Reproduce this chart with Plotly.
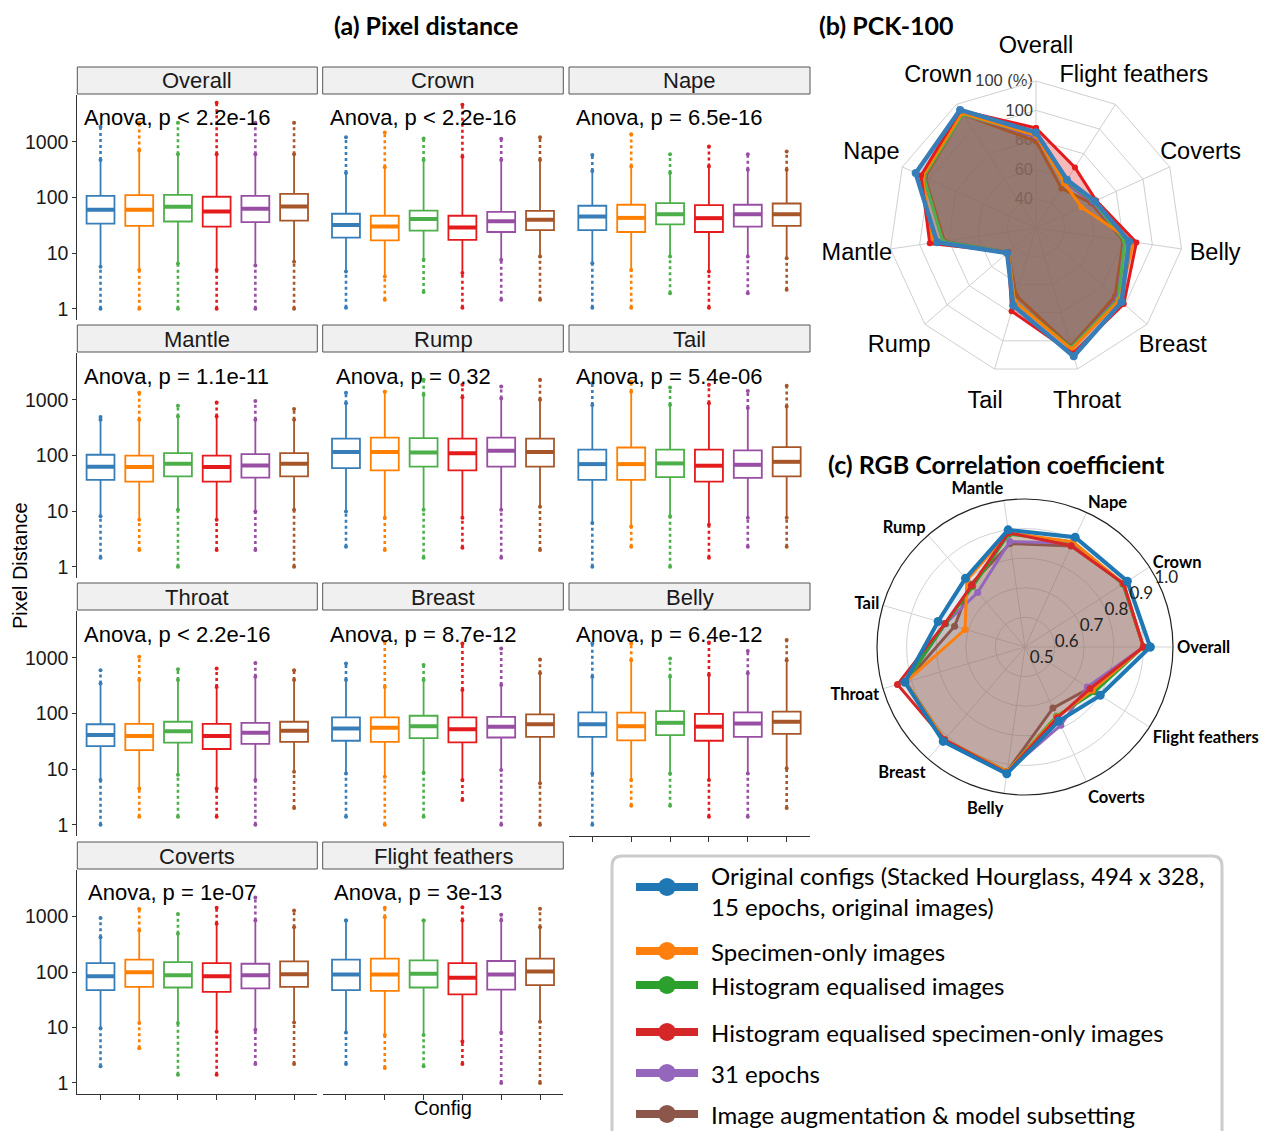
import plotly.graph_objects as go

OFF = 8                      # browser body margin
W, H = 1270 - 2 * OFF, 1139 - 2 * OFF

# ---------------- data ----------------
PANELS = ["Overall", "Crown", "Nape", "Mantle", "Rump", "Tail",
          "Throat", "Breast", "Belly", "Coverts", "Flight feathers"]
ANOVA = ["Anova, p < 2.2e-16", "Anova, p < 2.2e-16", "Anova, p = 6.5e-16",
         "Anova, p = 1.1e-11", "Anova, p = 0.32", "Anova, p = 5.4e-06",
         "Anova, p < 2.2e-16", "Anova, p = 8.7e-12", "Anova, p = 6.4e-12",
         "Anova, p = 1e-07", "Anova, p = 3e-13"]
CONFIGS = ["Original configs (Stacked Hourglass, 494 x 328,<br>15 epochs, original images)",
           "Specimen-only images",
           "Histogram equalised images",
           "Histogram equalised specimen-only images",
           "31 epochs",
           "Image augmentation & model subsetting"]
SET1 = ["#377EB8", "#FF7F00", "#4DAF4A", "#E41A1C", "#984EA3", "#A65628"]
TAB10 = ["#1F77B4", "#FF7F0E", "#2CA02C", "#D62728", "#9467BD", "#8C564B"]

# box statistics per panel (6 configs each)
Q1 = [[34, 31, 37, 30, 36, 38.5],
      [19, 17, 25.5, 17.3, 24, 26],
      [26, 24, 33, 24, 30, 31],
      [36.6, 34, 42, 34, 40, 42],
      [59.5, 54, 63, 54, 63, 63],
      [36.6, 36.6, 41, 34, 39.5, 42],
      [26, 22, 30, 23, 28.4, 31],
      [32.4, 31, 36, 30.4, 37, 38],
      [38, 33, 41, 32.4, 38, 43],
      [47, 54, 52.6, 44, 50.6, 54],
      [47, 45.6, 52.6, 39.5, 48, 58]]
MED = [[60, 60, 68, 56, 63, 69],
       [32, 30, 41, 29, 37.5, 40],
       [45.5, 43, 50, 42.5, 50, 50],
       [63, 62, 71, 62, 66, 71],
       [115, 115, 113, 110, 121, 115],
       [70, 70, 72, 65.5, 68, 77],
       [41, 39.5, 48, 39.5, 45, 49],
       [54, 55.5, 59, 52, 58, 64],
       [64, 59, 68, 58, 66, 71],
       [84, 99, 87, 84, 87, 91],
       [90, 90, 93, 79, 90, 102]]
Q3 = [[107, 110, 111, 103, 107, 116],
      [51, 47, 58, 47, 55, 57.5],
      [71, 74, 79, 73, 74, 78],
      [103, 99, 110, 99, 106, 110],
      [200, 210, 205, 200, 210, 200],
      [127, 139, 127, 127, 123, 141],
      [64, 65, 71, 65, 68, 71],
      [85, 85, 91, 85, 87, 96],
      [105, 104, 110, 98, 105, 108],
      [145, 167, 151, 145, 141, 156],
      [167, 174, 162, 145, 158, 174]]
WLO = [[5.7, 5, 6.5, 5, 6, 7],
       [4.7, 3.8, 7.6, 4.4, 7.6, 8.7],
       [6.6, 5, 8.7, 4.7, 8.7, 8.1],
       [8.1, 7, 10.6, 7, 9.9, 10.6],
       [9.9, 7.6, 10.6, 7.6, 10.6, 12],
       [6.1, 5.3, 8.1, 5.7, 7.6, 7.6],
       [6.4, 4.5, 7.9, 4.5, 6.4, 9],
       [8.4, 7.3, 8.6, 6.4, 9.7, 5.6],
       [8.4, 6.4, 8.4, 6.4, 8.4, 10.4],
       [9.7, 12, 12, 8.4, 9.1, 12.3],
       [8.1, 7.3, 7.3, 5.6, 8.1, 12.7]]
WHI = [[470, 700, 600, 600, 600, 600],
       [275, 350, 470, 540, 470, 470],
       [300, 360, 275, 360, 315, 315],
       [440, 440, 500, 500, 440, 440],
       [870, 1400, 1230, 1110, 1050, 1000],
       [810, 1400, 810, 870, 710, 760],
       [345, 400, 400, 300, 455, 400],
       [400, 300, 400, 263, 323, 525],
       [455, 900, 455, 490, 525, 900],
       [425, 560, 490, 740, 850, 645],
       [850, 970, 850, 850, 850, 645]]
OMIN = [[1.0, 1.0, 1.0, 1.0, 1.0, 1.0],
        [1.05, 1.45, 2.0, 1.05, 1.45, 1.45],
        [1.05, 1.05, 1.9, 1.05, 1.9, 2.2],
        [1.45, 2.0, 1.0, 2.0, 2.0, 1.0],
        [2.3, 2.0, 1.45, 2.2, 1.45, 2.0],
        [1.0, 2.3, 1.0, 1.45, 2.3, 2.3],
        [1.0, 1.4, 1.4, 1.4, 1.0, 2.0],
        [1.4, 1.0, 1.4, 2.8, 1.0, 1.0],
        [1.0, 2.2, 2.2, 1.4, 1.4, 2.0],
        [2.0, 4.2, 1.4, 1.4, 2.2, 2.2],
        [2.2, 1.86, 2.0, 2.2, 1.0, 1.0]]
OMAX = [[1870, 2200, 2200, 5000, 2200, 2200],
        [1200, 1470, 1150, 4600, 1130, 1200],
        [580, 1370, 600, 820, 600, 670],
        [490, 1340, 780, 890, 950, 680],
        [1340, 1400, 2280, 1860, 1730, 2280],
        [1980, 2100, 1660, 1860, 1440, 1780],
        [600, 1040, 620, 645, 810, 600],
        [790, 1950, 740, 1800, 1470, 930],
        [1800, 1800, 970, 1880, 1320, 2080],
        [940, 1370, 1110, 1450, 2200, 1290],
        [850, 1450, 850, 1470, 1080, 1380]]

# (b) PCK-100 radar
PCK_PARTS = ["Overall", "Flight feathers", "Coverts", "Belly", "Breast", "Throat",
             "Tail", "Rump", "Mantle", "Nape", "Crown"]
PCK = [[65, 39, 44, 64, 77, 91, 55, 26, 68, 90, 95.5],
       [63, 36, 34, 67, 75, 86, 52, 25, 71, 85, 93],
       [63, 38, 43, 61, 74, 85, 52, 25, 64, 84, 92],
       [68, 49, 45, 69, 79, 89, 59, 25, 73, 86, 95],
       [62, 37, 42, 61, 73, 85, 52, 25, 64, 84, 92],
       [59, 32, 41, 60, 71, 84, 48, 25, 63, 83, 92]]
PCK_TICKS = [20, 40, 60, 80, 100]
PCK_TICKTEXT = ["40", "60", "80", "100", "100 (%)"]

# (c) RGB correlation radar
RGB_PARTS = ["Overall", "Crown", "Nape", "Mantle", "Rump", "Tail", "Throat",
             "Breast", "Belly", "Coverts", "Flight feathers"]
RGB = [[0.923, 0.911, 0.908, 0.900, 0.807, 0.806, 0.923, 0.922, 0.933, 0.775, 0.802],
       [0.900, 0.896, 0.890, 0.890, 0.800, 0.711, 0.920, 0.915, 0.925, 0.760, 0.770],
       [0.900, 0.893, 0.890, 0.885, 0.770, 0.780, 0.920, 0.915, 0.925, 0.757, 0.780],
       [0.900, 0.896, 0.876, 0.890, 0.775, 0.782, 0.949, 0.915, 0.930, 0.763, 0.761],
       [0.900, 0.895, 0.885, 0.860, 0.744, 0.780, 0.920, 0.915, 0.925, 0.791, 0.750],
       [0.900, 0.896, 0.875, 0.853, 0.780, 0.748, 0.920, 0.915, 0.925, 0.727, 0.758]]
RGB_TICKS = [0.5, 0.6, 0.7, 0.8, 0.9, 1.0]

# ---------------- layout helpers ----------------
def px(x):
    return (x - OFF) / W

def py(y):
    return 1 - (y - OFF) / H

ARIAL = "Liberation Sans, Arial, sans-serif"
CALI = "Lato, Open Sans, sans-serif"

COLS = [(77.3, 317.3), (322.7, 563.3), (569.0, 810.0)]
ROWS = [(95, 320), (353, 578), (611, 836), (870, 1094)]
STRIP_H = 28
ANOVA_X = [0.02, 0.022, 0.02, 0.02, 0.047, 0.02, 0.02, 0.022, 0.02, 0.036, 0.037]
BOX_W = 0.72

fig = go.Figure()
layout = dict(width=W, height=H, margin=dict(l=0, r=0, t=0, b=0),
              paper_bgcolor="white", plot_bgcolor="white", showlegend=False)
shapes = []
annotations = []

positions = [1, 2, 3, 4, 5, 6]
for k, name in enumerate(PANELS):
    r, c = divmod(k, 3)
    n = k + 1
    xa = "x" if n == 1 else f"x{n}"
    ya = "y" if n == 1 else f"y{n}"
    x0, x1 = COLS[c]
    t, b = ROWS[r]
    bottom_panel = name in ("Belly", "Coverts", "Flight feathers")
    layout["xaxis" if n == 1 else f"xaxis{n}"] = dict(
        domain=[px(x0), px(x1)], anchor=ya, range=[0.4, 6.6],
        showgrid=False, zeroline=False, showticklabels=False,
        showline=bottom_panel, linecolor="#333333", linewidth=1,
        ticks="outside" if bottom_panel else "", ticklen=5, tickcolor="#333333",
        tickvals=positions)
    layout["yaxis" if n == 1 else f"yaxis{n}"] = dict(
        domain=[py(b), py(t)], anchor=xa, type="log", range=[-0.2, 3.84],
        showgrid=False, zeroline=False,
        showline=(c == 0), linecolor="#333333", linewidth=1,
        ticks="outside" if c == 0 else "", ticklen=4, tickcolor="#333333",
        showticklabels=(c == 0), tickvals=[1, 10, 100, 1000],
        ticktext=["1", "10", "100", "1000"],
        tickfont=dict(family=ARIAL, size=19.5, color="#1a1a1a"))
    for j in range(6):
        col = SET1[j]
        pos = positions[j]
        # outliers (upper and lower) as dotted strips
        for lo, hi in ((WHI[k][j], OMAX[k][j]), (OMIN[k][j], WLO[k][j])):
            fig.add_trace(go.Scatter(
                x=[pos, pos], y=[lo, hi], mode="lines+markers", xaxis=xa, yaxis=ya,
                line=dict(color=col, width=2.6, dash="dot"),
                marker=dict(color=col, size=4), hoverinfo="skip", showlegend=False))
        fig.add_trace(go.Box(
            x=[pos], q1=[Q1[k][j]], median=[MED[k][j]], q3=[Q3[k][j]],
            lowerfence=[WLO[k][j]], upperfence=[WHI[k][j]],
            width=BOX_W, whiskerwidth=0, boxpoints=False,
            line=dict(color=col, width=1.8), fillcolor="white",
            xaxis=xa, yaxis=ya, hoverinfo="skip", showlegend=False))
        fig.add_trace(go.Scatter(
            x=[pos - BOX_W / 2, pos + BOX_W / 2], y=[MED[k][j], MED[k][j]],
            mode="lines", line=dict(color=col, width=4), xaxis=xa, yaxis=ya,
            hoverinfo="skip", showlegend=False))
    # strip
    shapes.append(dict(type="rect", xref="paper", yref="paper",
                       x0=px(x0), x1=px(x1), y0=py(t - 1), y1=py(t - STRIP_H),
                       fillcolor="#F0F0F0", line=dict(color="#555555", width=1), layer="below"))
    annotations.append(dict(text=name, xref="paper", yref="paper",
                            x=px((x0 + x1) / 2), y=py(t - STRIP_H / 2),
                            xanchor="center", yanchor="middle", showarrow=False,
                            font=dict(family=ARIAL, size=22, color="#1a1a1a")))
    annotations.append(dict(text=ANOVA[k], xref=f"{xa} domain", yref=f"{ya} domain",
                            x=ANOVA_X[k], y=1 - 23 / 225, xanchor="left", yanchor="middle",
                            showarrow=False, font=dict(family=ARIAL, size=22, color="black")))

# axis titles / panel titles
annotations.append(dict(text="Pixel Distance", xref="paper", yref="paper", x=px(20), y=py(566),
                        textangle=-90, showarrow=False, xanchor="center", yanchor="middle",
                        font=dict(family=ARIAL, size=20, color="black")))
annotations.append(dict(text="Config", xref="paper", yref="paper", x=px(443), y=py(1108),
                        showarrow=False, xanchor="center", yanchor="middle",
                        font=dict(family=ARIAL, size=20, color="black")))
annotations.append(dict(text="<b>(a) Pixel distance</b>", xref="paper", yref="paper",
                        x=px(426), y=py(25), showarrow=False, xanchor="center", yanchor="middle",
                        font=dict(family=CALI, size=25, color="black")))
annotations.append(dict(text="<b>(b) PCK-100</b>", xref="paper", yref="paper",
                        x=px(817), y=py(25), showarrow=False, xanchor="left", yanchor="middle",
                        font=dict(family=CALI, size=25, color="black")))
annotations.append(dict(text="<b>(c) RGB Correlation coefficient</b>", xref="paper", yref="paper",
                        x=px(826), y=py(464), showarrow=False, xanchor="left", yanchor="middle",
                        font=dict(family=CALI, size=25, color="black")))

# ---------------- (b) PCK radar ----------------
def hexrgba(h, a):
    h = h.lstrip("#")
    return f"rgba({int(h[0:2],16)},{int(h[2:4],16)},{int(h[4:6],16)},{a})"

closed_pck = PCK_PARTS + [PCK_PARTS[0]]
pck_fill_order = [3, 1, 2, 4, 0, 5]
for j in pck_fill_order:
    vals = PCK[j] + [PCK[j][0]]
    fig.add_trace(go.Scatterpolar(r=vals, theta=closed_pck, subplot="polar", mode="lines",
                                  fill="toself", fillcolor=hexrgba(SET1[j], 0.3),
                                  line=dict(width=0, color=hexrgba(SET1[j], 0)),
                                  hoverinfo="skip", showlegend=False))
line_order = [5, 4, 2, 1, 3, 0]
for j in line_order:
    vals = PCK[j] + [PCK[j][0]]
    fig.add_trace(go.Scatterpolar(r=vals, theta=closed_pck, subplot="polar", mode="lines+markers",
                                  line=dict(width=4.5 if j == 0 else 3, color=SET1[j]),
                                  marker=dict(size=8 if j == 0 else 6, color=SET1[j]),
                                  hoverinfo="skip", showlegend=False))
# category labels, centred on a wider (invisible) polar frame around the web
fig.add_trace(go.Scatterpolar(r=[100] * len(PCK_PARTS), theta=PCK_PARTS, subplot="polar3",
                              mode="text", text=PCK_PARTS, textposition="middle center",
                              cliponaxis=False,
                              textfont=dict(family=ARIAL, size=23.5, color="black"),
                              hoverinfo="skip", showlegend=False))

layout["polar"] = dict(
    domain=dict(x=[px(889), px(1183)], y=[py(375), py(81)]),
    gridshape="linear", bgcolor="white",
    angularaxis=dict(direction="clockwise", rotation=90, showline=True, linecolor="#CFCFCF",
                     linewidth=1, gridcolor="#CFCFCF", ticks="", showticklabels=False,
                     categoryorder="array", categoryarray=PCK_PARTS),
    radialaxis=dict(range=[0, 100], tickvals=PCK_TICKS, ticktext=PCK_TICKTEXT, angle=90,
                    side="counterclockwise",
                    showline=False, gridcolor="#CFCFCF", ticks="", tickangle=90,
                    layer="below traces",
                    tickfont=dict(family=ARIAL, size=16.5, color="#3a3a3a")))
layout["polar3"] = dict(
    domain=dict(x=[px(855), px(1217)], y=[py(409), py(47)]),
    gridshape="linear", bgcolor="rgba(0,0,0,0)",
    angularaxis=dict(direction="clockwise", rotation=90, showline=False, showgrid=False,
                     ticks="", showticklabels=False,
                     categoryorder="array", categoryarray=PCK_PARTS),
    radialaxis=dict(range=[0, 100], showline=False, showgrid=False, ticks="",
                    showticklabels=False))

# ---------------- (c) RGB radar ----------------
closed_rgb = RGB_PARTS + [RGB_PARTS[0]]
for j in range(6):
    vals = RGB[j] + [RGB[j][0]]
    fig.add_trace(go.Scatterpolar(r=vals, theta=closed_rgb, subplot="polar2", mode="lines",
                                  fill="toself", fillcolor=hexrgba(TAB10[j], 0.12),
                                  line=dict(width=0, color=hexrgba(TAB10[j], 0)),
                                  hoverinfo="skip", showlegend=False))
for j in line_order:
    vals = RGB[j] + [RGB[j][0]]
    fig.add_trace(go.Scatterpolar(r=vals, theta=closed_rgb, subplot="polar2", mode="lines+markers",
                                  line=dict(width=4 if j == 0 else 3, color=TAB10[j]),
                                  marker=dict(size=9 if j == 0 else 7, color=TAB10[j]),
                                  hoverinfo="skip", showlegend=False))

layout["polar2"] = dict(
    domain=dict(x=[px(877), px(1173)], y=[py(795), py(499)]),
    bgcolor="white",
    angularaxis=dict(direction="counterclockwise", rotation=0, showline=True, linecolor="#222222",
                     linewidth=1.2, gridcolor="#D3D3D3", ticks="",
                     categoryorder="array", categoryarray=RGB_PARTS,
                     tickfont=dict(family=CALI, size=16.5, color="black", weight="bold")),
    radialaxis=dict(range=[0.5, 1.0], tickvals=RGB_TICKS, ticktext=[f"{v:.1f}" for v in RGB_TICKS],
                    angle=32.7, tickangle=32.7, showline=False, gridcolor="#D3D3D3", ticks="",
                    tickfont=dict(family=CALI, size=17, color="#222222")))

# ---------------- legend box ----------------
lx0, lx1, ly0, ly1, rad = 612, 1222, 856, 1150, 10
path = (f"M {px(lx0+rad)},{py(ly0)} L {px(lx1-rad)},{py(ly0)} "
        f"Q {px(lx1)},{py(ly0)} {px(lx1)},{py(ly0+rad)} L {px(lx1)},{py(ly1)} "
        f"L {px(lx0)},{py(ly1)} L {px(lx0)},{py(ly0+rad)} "
        f"Q {px(lx0)},{py(ly0)} {px(lx0+rad)},{py(ly0)} Z")
shapes.append(dict(type="path", path=path, xref="paper", yref="paper",
                   line=dict(color="#CCCCCC", width=3), fillcolor="white", layer="below"))
LEG_Y = [887, 951, 985, 1032, 1073, 1114]
LEG_TEXT_Y = [891, 951, 985, 1032, 1073, 1114]
for j, label in enumerate(CONFIGS):
    yy = LEG_Y[j]
    shapes.append(dict(type="line", xref="paper", yref="paper", x0=px(636), x1=px(698),
                       y0=py(yy), y1=py(yy), line=dict(color=TAB10[j], width=8)))
    shapes.append(dict(type="circle", xref="paper", yref="paper", x0=px(658), x1=px(676),
                       y0=py(yy + 9), y1=py(yy - 9), fillcolor=TAB10[j],
                       line=dict(color=TAB10[j], width=0)))
    annotations.append(dict(text=label, xref="paper", yref="paper", x=px(709), y=py(LEG_TEXT_Y[j]),
                            xanchor="left", yanchor="middle", align="left", showarrow=False,
                            font=dict(family=CALI, size=24, color="black")))

layout["shapes"] = shapes
layout["annotations"] = annotations
fig.update_layout(**layout)
fig.write_html("out.html")
